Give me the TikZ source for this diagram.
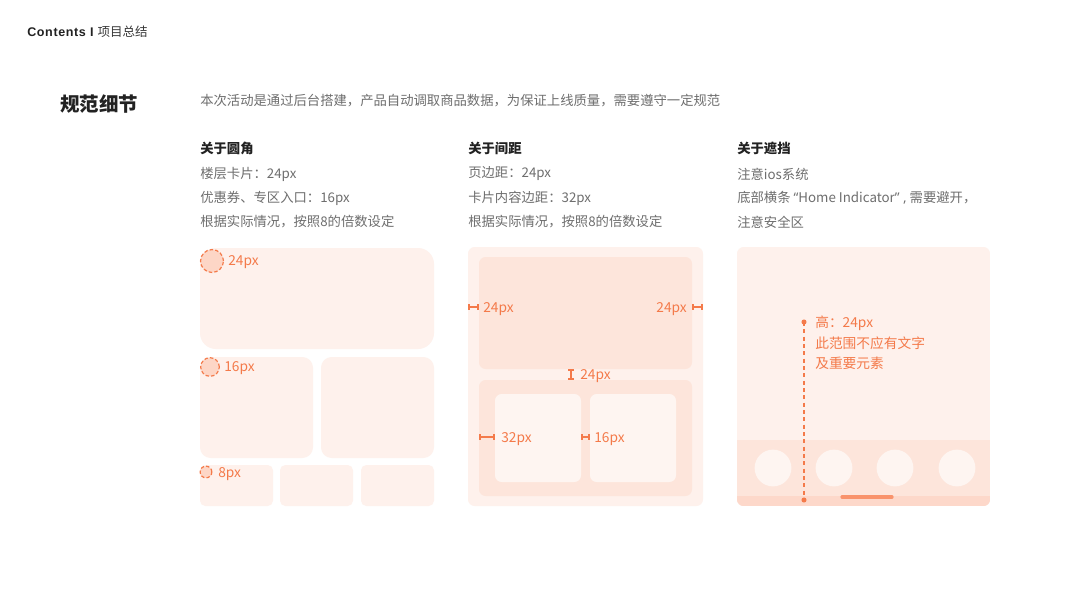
\documentclass[tikz,border=0pt]{standalone}
\usepackage{fontspec}
\setmainfont{Noto Sans CJK SC}
\newfontfamily\latinhead{Liberation Sans}
\newfontfamily\qf{Noto Sans}
\begin{document}
\begin{tikzpicture}[x=0.75pt,y=-0.75pt,
  txt/.style={anchor=west,inner sep=0pt,font=\fontsize{10}{12}\selectfont,text=gray6},
  head/.style={anchor=west,inner sep=0pt,font=\fontsize{10}{12}\selectfont\bfseries,text=dark},
  lbl/.style={anchor=west,inner sep=0pt,font=\fontsize{10.3}{12}\selectfont,text=orng},
  card/.style={fill=pale,draw=none},
  mid/.style={fill=midc,draw=none},
  lite/.style={fill=litec,draw=none},
  corner/.style={draw=orng,fill=circc,dashed,line width=0.9pt,dash pattern=on 2.6pt off 1.6pt},
  meas/.style={draw=orng,line width=0.9pt},
]
\definecolor{gray6}{HTML}{6E6E6E}
\definecolor{dark}{HTML}{222222}
\definecolor{orng}{HTML}{F47A4A}
\definecolor{pale}{HTML}{FEF1EC}
\definecolor{midc}{HTML}{FDE5DB}
\definecolor{litec}{HTML}{FEF5F1}
\definecolor{circc}{HTML}{FDD6C6}
\definecolor{stripc}{HTML}{FDD8CA}
\definecolor{barc}{HTML}{F9936C}
\useasboundingbox (0,0) rectangle (1067,600);
\fill[white] (0,0) rectangle (1067,600);

% header
\node[anchor=west,inner sep=0pt] (contents) at (27,32)
  {\latinhead\fontsize{9.4}{11}\selectfont\bfseries\addfontfeature{LetterSpace=5}\color{dark}Contents I\hspace{3pt}\rmfamily\mdseries\fontsize{9.4}{11}\selectfont\color{dark!90}项目总结};
\node[anchor=west,inner sep=0pt,font=\fontsize{14.6}{16}\selectfont\bfseries,text=dark] (title) at (60,104) {规范细节};
\node[anchor=west,inner sep=0pt,font=\fontsize{10}{12}\selectfont,text=gray6] (sub) at (200,101) {本次活动是通过后台搭建，产品自动调取商品数据，为保证上线质量，需要遵守一定规范};

% column 1 text
\node[head] (h1) at (200,148) {关于圆角};
\node[txt] (a1) at (200,174) {楼层卡片：24px};
\node[txt] (a2) at (200,198) {优惠券、专区入口：16px};
\node[txt] (a3) at (200,222) {根据实际情况，按照8的倍数设定};
% column 2 text
\node[head] (h2) at (468,148) {关于间距};
\node[txt] (b1) at (468,174) {页边距：24px};
\node[txt] (b2) at (468,198) {卡片内容边距：32px};
\node[txt] (b3) at (468,222) {根据实际情况，按照8的倍数设定};
% column 3 text
\node[head] (h3) at (737,148) {关于遮挡};
\node[txt] (c1) at (737,174) {注意ios系统};
\node[txt] (c2) at (737,198) {底部横条 {\qf “}Home Indicator{\qf ” ,} 需要避开，};
\node[txt] (c3) at (737,222) {注意安全区};

% ===== panel 1: corners
\fill[card,rounded corners=12pt] (200,248) rectangle (434,349);
\fill[card,rounded corners=8pt] (200,357) rectangle (313,458);
\fill[card,rounded corners=8pt] (321,357) rectangle (434,458);
\fill[card,rounded corners=4pt] (200,465) rectangle (273,506);
\fill[card,rounded corners=4pt] (280,465) rectangle (353,506);
\fill[card,rounded corners=4pt] (361,465) rectangle (434,506);
\draw[corner] (212,261) circle[radius=8.6pt];
\draw[corner] (210,367) circle[radius=7pt];
\draw[corner] (206,472) circle[radius=4.4pt];
\node[lbl] (r24) at (228,262) {24px};
\node[lbl] (r16) at (224,368) {16px};
\node[lbl] (r8) at (218,474) {8px};

% ===== panel 2: spacing
\fill[card,rounded corners=5pt] (468,247) rectangle (703,506);
\fill[mid,rounded corners=5pt] (479,257) rectangle (692,369);
\fill[mid,rounded corners=5pt] (479,380) rectangle (692,496);
\fill[lite,rounded corners=5pt] (495,394) rectangle (581,482);
\fill[lite,rounded corners=5pt] (590,394) rectangle (676,482);
% measure marks
\draw[meas] (469,307) -- (478,307) (469,304) -- (469,310) (478,304) -- (478,310);
\node[lbl] (m1) at (483,309) {24px};
\draw[meas] (693,307) -- (702,307) (693,304) -- (693,310) (702,304) -- (702,310);
\node[lbl,anchor=east] (m2) at (687,309) {24px};
\draw[meas] (571,370) -- (571,379) (568,370) -- (574,370) (568,379) -- (574,379);
\node[lbl] (m3) at (580,376) {24px};
\draw[meas] (480,437) -- (494,437) (480,434) -- (480,440) (494,434) -- (494,440);
\node[lbl] (m4) at (501,439) {32px};
\draw[meas] (582,437) -- (589,437) (582,434) -- (582,440) (589,434) -- (589,440);
\node[lbl] (m5) at (594,439) {16px};

% ===== panel 3: occlusion
\begin{scope}
\clip[rounded corners=5pt] (737,247) rectangle (990,506);
\fill[pale] (737,247) rectangle (990,506);
\fill[midc] (737,440) rectangle (990,506);
\fill[stripc] (737,496) rectangle (990,506);
\end{scope}
\foreach \cx in {773,834,895,957} \fill[litec] (\cx,468) circle[radius=13.8pt];
\draw[barc,line width=2.4pt,line cap=round] (842,497) -- (892,497);
\coordinate (topdot) at (804,322);
\coordinate (botdot) at (804,500);
\draw[orng,line width=0.9pt,dash pattern=on 3pt off 2.5pt] (topdot) -- (botdot);
\fill[orng] (topdot) circle[radius=1.9pt];
\fill[orng] (botdot) circle[radius=1.9pt];
\node[lbl] (n1) at (815,323) {高：24px};
\node[lbl] (n2) at (815,343) {此范围不应有文字};
\node[lbl] (n3) at (815,363) {及重要元素};
\end{tikzpicture}
\end{document}
